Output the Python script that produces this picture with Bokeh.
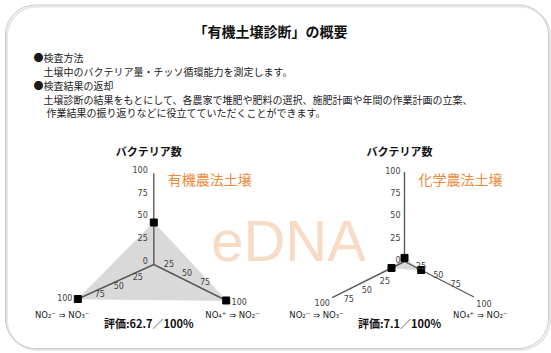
import numpy as np
from bokeh.plotting import figure
from bokeh.models import Range1d
from bokeh.core.properties import value
from bokeh.embed import file_html
from bokeh.resources import INLINE

# ---------------- data ----------------
title_text = "「有機土壌診断」の概要"
intro_lines = [
    "●検査方法",
    "土壌中のバクテリア量・チッソ循環能力を測定します。",
    "●検査結果の返却",
    "土壌診断の結果をもとにして、各農家で堆肥や肥料の選択、施肥計画や年間の作業計画の立案、",
    "作業結果の振り返りなどに役立てていただくことができます。",
]
axis_title = "バクテリア数"
formula_left = "NO₂⁻  ⇒  NO₃⁻"
formula_right = "NO₄⁺  ⇒  NO₂⁻"
soil_names = ["有機農法土壌", "化学農法土壌"]
organic_values = [46, 100, 100]    # top, lower-left, lower-right
chemical_values = [4, 18, 24]
scores = [62.7, 7.1]
tick_values = [0, 25, 50, 75, 100]
watermark = "eDNA"

# ---------------- layout (pixels) ----------------
W, H = 551, 353
JP = "Noto Sans CJK JP"
charts = [
    dict(c=(153.3, 264.0), up=(0, -91.3), ll=(-76.0, 34.5), lr=(72.4, 36.0),
         top_off=(-6, -4), ll_off=(3, 3.5), ll100=(-13, -2), lr_off=(-3, -10), lr100=(13, 1)),
    dict(c=(404.0, 261.0), up=(0, -89.5), ll=(-72.3, 36.2), lr=(69.5, 35.5),
         top_off=(-4, -2), ll_off=(-1.5, 10), ll100=(-10, 5), lr_off=(-1, -5), lr100=(10, 6)),
]
series = [organic_values, chemical_values]

p = figure(width=W, height=H, x_range=Range1d(0, W), y_range=Range1d(H, 0),
           output_backend="svg", toolbar_location=None, min_border=0)
p.axis.visible = False
p.grid.visible = False
p.outline_line_color = None
p.background_fill_color = "white"
p.border_fill_color = "white"

# rounded frame
def rounded(l, r, t, b, rad, n=16):
    xs, ys = [], []
    for cx, cy, a0 in [(r - rad, t + rad, -90), (r - rad, b - rad, 0), (l + rad, b - rad, 90), (l + rad, t + rad, 180)]:
        a = np.deg2rad(np.linspace(a0, a0 + 90, n))
        xs += list(cx + rad * np.cos(a)); ys += list(cy + rad * np.sin(a))
    xs.append(xs[0]); ys.append(ys[0])
    return xs, ys

sx, sy = rounded(6.5, 549.5, 6, 349.5, 30)
p.line(sx, sy, line_color="#e6e6e6", line_width=2)
fx, fy = rounded(5, 548, 4.5, 348, 30)
p.line(fx, fy, line_color="#c8c8c8", line_width=1)

# watermark
p.text(x=[288], y=[240], text=[watermark], text_font=value("Liberation Sans"),
       text_font_size="58px", text_color="#f8dbc4", text_align="center", text_baseline="alphabetic")

# header
p.text(x=[270], y=[30], text=[title_text], text_font=value(JP), text_font_size="14px",
       text_font_style="bold", text_color="#111111", text_align="center", text_baseline="middle")
p.text(x=[33, 43, 33, 43, 46], y=[57, 71, 85, 99, 112], text=intro_lines, text_font=value(JP),
       text_font_size="10px", text_color="#1a1a1a", text_align="left", text_baseline="middle")

def pt(ch, axis, v):
    cx, cy = ch["c"]
    dx, dy = ch[axis]
    return cx + dx * v / 100.0, cy + dy * v / 100.0

for ch, vals, name, score in zip(charts, series, soil_names, scores):
    axes = ["up", "ll", "lr"]
    pts = [pt(ch, a, v) for a, v in zip(axes, vals)]
    p.patch([q[0] for q in pts], [q[1] for q in pts], fill_color="#d9d9d9", line_color="#d0d0d0", line_width=0.5)
    cx, cy = ch["c"]
    for a in axes:
        ex, ey = pt(ch, a, 100)
        p.line([cx, ex], [cy, ey], line_color="#595959", line_width=1.4)
    p.scatter([q[0] for q in pts], [q[1] for q in pts], marker="square", size=7,
              fill_color="black", line_color="black")
    # tick labels
    tx, ty, tt = [], [], []
    for v in tick_values:
        x, y = pt(ch, "up", v)
        tx.append(x + ch["top_off"][0]); ty.append(y + ch["top_off"][1]); tt.append(str(v))
    p.text(x=tx, y=ty, text=tt, text_font=value("DejaVu Sans"), text_font_size="8px",
           text_color="#404040", text_align="right", text_baseline="middle")
    cxs, cys, cts = [], [], []
    for v in tick_values[1:]:
        x, y = pt(ch, "ll", v)
        o = ch["ll100"] if v == 100 else ch["ll_off"]
        cxs.append(x + o[0]); cys.append(y + o[1]); cts.append(str(v))
        x, y = pt(ch, "lr", v)
        o = ch["lr100"] if v == 100 else ch["lr_off"]
        cxs.append(x + o[0]); cys.append(y + o[1]); cts.append(str(v))
    p.text(x=cxs, y=cys, text=cts, text_font=value("DejaVu Sans"), text_font_size="8px",
           text_color="#404040", text_align="center", text_baseline="middle")
    # titles
    p.text(x=[cx - 5], y=[150], text=[axis_title], text_font=value(JP), text_font_size="11px",
           text_font_style="bold", text_color="#111111", text_align="center", text_baseline="middle")
    p.text(x=[cx + 56], y=[178], text=[name], text_font=value(JP), text_font_size="14px",
           text_color="#ec8a3c", text_align="center", text_baseline="middle")
    llx, _ = pt(ch, "ll", 100)
    lrx, _ = pt(ch, "lr", 100)
    p.text(x=[llx - 13, lrx + 9], y=[314, 314], text=[formula_left, formula_right],
           text_font=value("DejaVu Sans"), text_font_size="8.5px", text_color="#222222",
           text_align="center", text_baseline="middle")
    p.text(x=[cx - 5], y=[322], text=[f"評価:{score}／100%"], text_font=value(JP),
           text_font_size="11px", text_font_style="bold", text_color="#111111",
           text_align="center", text_baseline="middle")

open("out.html", "w").write(file_html(p, INLINE))
